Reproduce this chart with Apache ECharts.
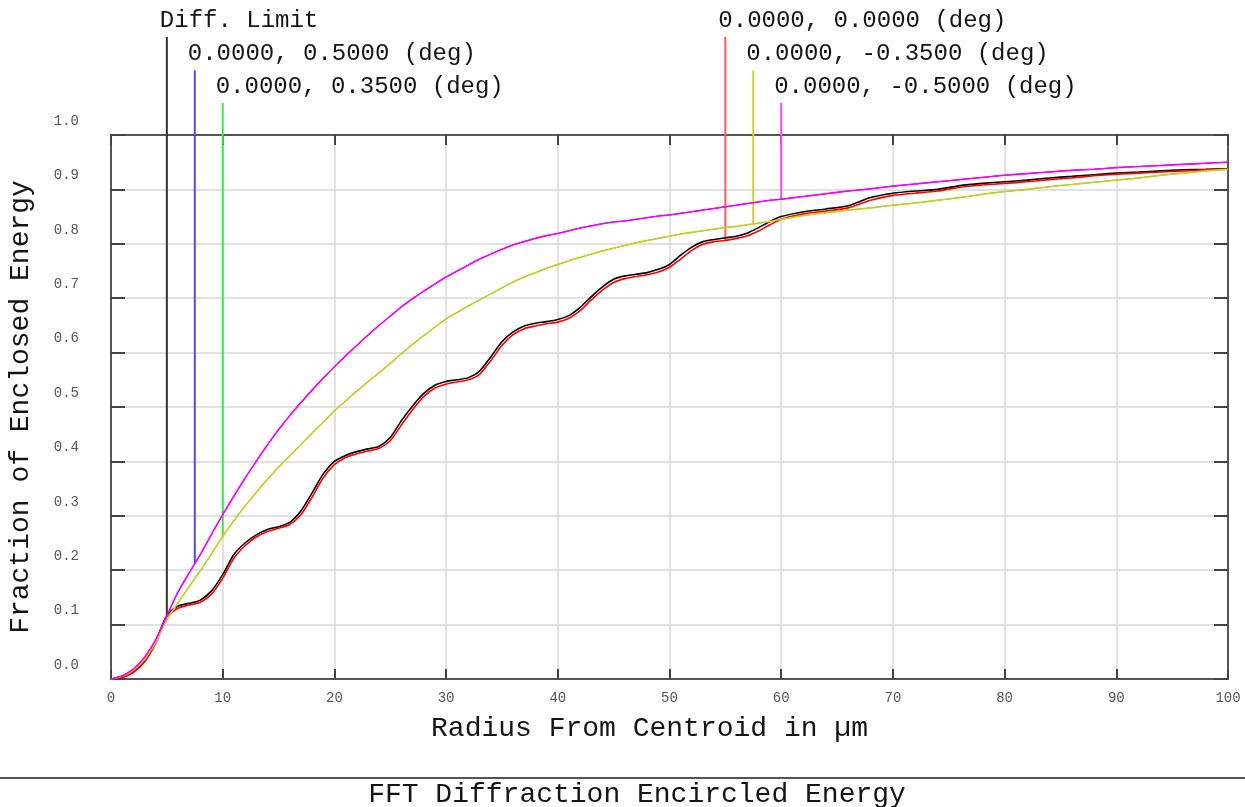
<!DOCTYPE html>
<html>
<head>
<meta charset="utf-8">
<title>FFT Diffraction Encircled Energy</title>
<script src="https://cdn.jsdelivr.net/npm/echarts@6/dist/echarts.min.js"></script>
<style>
  html, body { margin: 0; padding: 0; background: #ffffff; }
  #chart { width: 1245px; height: 807px; }
</style>
</head>
<body>
<div id="chart"></div>
<script>
// Radius from centroid (µm): 1 µm steps up to 60, then 2 µm steps.
const radius = [
  0, 1, 2, 3, 4, 5, 6, 7, 8, 9, 10, 11, 12, 13, 14, 15, 16, 17, 18, 19, 20,
  21, 22, 23, 24, 25, 26, 27, 28, 29, 30, 31, 32, 33, 34, 35, 36, 37, 38, 39, 40,
  41, 42, 43, 44, 45, 46, 47, 48, 49, 50, 51, 52, 53, 54, 55, 56, 57, 58, 59, 60,
  62, 64, 66, 68, 70, 72, 74, 76, 78, 80, 82, 84, 86, 88, 90, 92, 94, 96, 98, 100
];

// Diffraction-limited encircled energy.
const diffLimit = [
  0.000, 0.003, 0.013, 0.033, 0.069, 0.117, 0.134, 0.139, 0.145, 0.162, 0.192,
  0.229, 0.250, 0.265, 0.275, 0.280, 0.288, 0.309, 0.342, 0.377, 0.400,
  0.411, 0.418, 0.423, 0.428, 0.444, 0.475, 0.502, 0.525, 0.540, 0.547,
  0.550, 0.554, 0.566, 0.592, 0.620, 0.638, 0.649, 0.654, 0.657, 0.661,
  0.668, 0.683, 0.703, 0.721, 0.735, 0.741, 0.744, 0.747, 0.753, 0.762,
  0.779, 0.794, 0.804, 0.808, 0.811, 0.814, 0.820, 0.830, 0.841, 0.850,
  0.859, 0.864, 0.870, 0.885, 0.893, 0.897, 0.900, 0.907, 0.911, 0.914,
  0.917, 0.921, 0.924, 0.927, 0.930, 0.932, 0.934, 0.936, 0.937, 0.938
];

// On-axis field (0.0000, 0.0000 deg).
const fieldAxis = [
  0.000, 0.003, 0.012, 0.031, 0.066, 0.113, 0.130, 0.136, 0.141, 0.156, 0.185,
  0.222, 0.245, 0.261, 0.271, 0.277, 0.284, 0.302, 0.334, 0.370, 0.394,
  0.407, 0.414, 0.419, 0.424, 0.438, 0.467, 0.495, 0.519, 0.535, 0.542,
  0.546, 0.550, 0.560, 0.585, 0.613, 0.633, 0.644, 0.649, 0.653, 0.656,
  0.663, 0.677, 0.697, 0.715, 0.729, 0.736, 0.740, 0.743, 0.748, 0.757,
  0.772, 0.788, 0.799, 0.804, 0.806, 0.810, 0.815, 0.824, 0.835, 0.845,
  0.855, 0.860, 0.866, 0.880, 0.889, 0.893, 0.897, 0.904, 0.908, 0.911,
  0.914, 0.918, 0.921, 0.925, 0.928, 0.930, 0.932, 0.934, 0.936, 0.937
];

// Fields at ±0.3500 deg (symmetric, identical curves).
const fieldZone = [
  0.000, 0.005, 0.016, 0.036, 0.068, 0.109, 0.140, 0.170, 0.199, 0.230, 0.262,
  0.291, 0.318, 0.343, 0.367, 0.389, 0.410, 0.431, 0.452, 0.472, 0.493,
  0.511, 0.529, 0.546, 0.563, 0.580, 0.598, 0.615, 0.631, 0.647, 0.662,
  0.674, 0.686, 0.697, 0.708, 0.719, 0.730, 0.739, 0.747, 0.755, 0.762,
  0.769, 0.775, 0.781, 0.787, 0.792, 0.797, 0.802, 0.806, 0.810, 0.814,
  0.818, 0.821, 0.824, 0.827, 0.830, 0.832, 0.835, 0.838, 0.841, 0.845,
  0.852, 0.857, 0.862, 0.866, 0.871, 0.875, 0.880, 0.885, 0.891, 0.896,
  0.900, 0.905, 0.909, 0.913, 0.917, 0.921, 0.926, 0.930, 0.934, 0.937
];

// Fields at ±0.5000 deg (symmetric, identical curves).
const fieldEdge = [
  0.000, 0.006, 0.018, 0.040, 0.072, 0.116, 0.160, 0.195, 0.229, 0.266, 0.302,
  0.336, 0.369, 0.400, 0.430, 0.458, 0.484, 0.508, 0.531, 0.553, 0.574,
  0.594, 0.613, 0.632, 0.650, 0.667, 0.684, 0.699, 0.713, 0.726, 0.739,
  0.750, 0.761, 0.772, 0.781, 0.790, 0.798, 0.804, 0.810, 0.815, 0.819,
  0.824, 0.829, 0.833, 0.837, 0.840, 0.842, 0.845, 0.848, 0.851, 0.853,
  0.856, 0.859, 0.862, 0.865, 0.868, 0.871, 0.874, 0.877, 0.880, 0.882,
  0.887, 0.892, 0.897, 0.901, 0.906, 0.910, 0.914, 0.918, 0.922, 0.926,
  0.929, 0.932, 0.935, 0.937, 0.940, 0.942, 0.944, 0.946, 0.948, 0.950
];

// Axis ticks.
const xTicks = { min: 0, max: 100, step: 10 };
const yTicks = { min: 0, max: 1.0, step: 0.1 };

// Legend entries, in drawing order, with the radius each leader line marks.
const traceNames = [
  'Diff. Limit',
  '0.0000, 0.5000 (deg)',
  '0.0000, 0.3500 (deg)',
  '0.0000, 0.0000 (deg)',
  '0.0000, -0.3500 (deg)',
  '0.0000, -0.5000 (deg)'
];
const traceValues = [diffLimit, fieldEdge, fieldZone, fieldAxis, fieldZone, fieldEdge];
const markerRadius = [5, 7.5, 10, 55, 57.5, 60];

// ---- styling ----
const FONT = '"Liberation Mono", "DejaVu Sans Mono", monospace';
const TEXT_COLOR = '#141414';
const curveColors = ['#000000', '#0000ff', '#00e000', '#ff0000', '#cccc22', '#ff00ff'];
const curveWidths = [1.6, 1, 1, 1.6, 1.6, 1.6];
const leaderColors = ['#333333', '#4a4aff', '#33ee33', '#ff5a5a', '#cccc44', '#ff44ff'];
// Leader line tops, in value units above the plot (three stacked rows).
const leaderTop = [1.180, 1.119, 1.059, 1.180, 1.119, 1.059];

function valueAt(values, r) {
  for (let i = 1; i < radius.length; i++) {
    if (r <= radius[i]) {
      const t = (r - radius[i - 1]) / (radius[i] - radius[i - 1]);
      return values[i - 1] + t * (values[i] - values[i - 1]);
    }
  }
  return values[values.length - 1];
}

const curveSeries = traceNames.map((name, k) => ({
  name: name,
  type: 'line',
  data: radius.map((r, i) => [r, traceValues[k][i]]),
  showSymbol: false,
  smooth: 0.25,
  lineStyle: { color: curveColors[k], width: curveWidths[k] },
  z: 3 + k,
  silent: true
}));

// Vertical leader from each curve up to its legend text.
const leaderSeries = traceNames.map((name, k) => ({
  name: name + ' leader',
  type: 'line',
  clip: false,
  data: [
    [markerRadius[k], valueAt(traceValues[k], markerRadius[k])],
    [markerRadius[k], leaderTop[k]]
  ],
  showSymbol: false,
  lineStyle: { color: leaderColors[k], width: 2 },
  z: 2,
  silent: true
}));

// Legend text sitting just above each leader top.
const labelSeries = {
  type: 'scatter',
  clip: false,
  symbol: 'rect',
  symbolSize: [1, 1],
  itemStyle: { color: '#ffffff', opacity: 1 },
  silent: true,
  data: traceNames.map((name, k) => ({
    value: [markerRadius[k], leaderTop[k]],
    label: {
      show: true,
      formatter: name,
      position: 'top',
      align: 'left',
      distance: 4,
      offset: [-7, 0],
      fontFamily: FONT,
      fontSize: 24,
      color: TEXT_COLOR,
      opacity: 1
    }
  })),
  z: 1
};

const chart = echarts.init(document.getElementById('chart'), null, { renderer: 'canvas' });

chart.setOption({
  animation: false,
  backgroundColor: '#ffffff',
  grid: { left: 111, right: 17, top: 135, bottom: 128, containLabel: false, outerBoundsMode: 'none' },
  xAxis: [
    {
      type: 'value',
      min: xTicks.min, max: xTicks.max, interval: xTicks.step,
      position: 'bottom',
      name: 'Radius From Centroid in \u00b5m',
      nameLocation: 'middle',
      nameGap: 36,
      nameTextStyle: { fontFamily: FONT, fontSize: 28, color: TEXT_COLOR, padding: [0, 40, 0, 0] },
      axisLine: { show: true, onZero: false, lineStyle: { color: '#555555', width: 2 } },
      axisTick: { show: true, inside: true, length: 10, lineStyle: { color: '#444444', width: 2 } },
      axisLabel: { fontFamily: FONT, fontSize: 14, color: '#555555', margin: 12 },
      splitLine: { show: true, lineStyle: { color: '#d9d9d9', width: 1.5 } }
    },
    {
      type: 'value',
      min: xTicks.min, max: xTicks.max, interval: xTicks.step,
      position: 'top',
      axisLine: { show: true, onZero: false, lineStyle: { color: '#555555', width: 2 } },
      axisTick: { show: true, inside: true, length: 10, lineStyle: { color: '#444444', width: 2 } },
      axisLabel: { show: false },
      splitLine: { show: false }
    }
  ],
  yAxis: [
    {
      type: 'value',
      min: yTicks.min, max: yTicks.max, interval: yTicks.step,
      position: 'left',
      name: 'Fraction of Enclosed Energy',
      nameLocation: 'middle',
      nameGap: 76,
      nameTextStyle: { fontFamily: FONT, fontSize: 28, color: TEXT_COLOR },
      axisLine: { show: true, onZero: false, lineStyle: { color: '#555555', width: 2 } },
      axisTick: { show: true, inside: true, length: 14, lineStyle: { color: '#444444', width: 2 } },
      axisLabel: {
        fontFamily: FONT, fontSize: 14, color: '#555555', margin: 32,
        verticalAlign: 'bottom', lineHeight: 28,
        formatter: v => v.toFixed(1)
      },
      splitLine: { show: true, lineStyle: { color: '#d9d9d9', width: 1.5 } }
    },
    {
      type: 'value',
      min: yTicks.min, max: yTicks.max, interval: yTicks.step,
      position: 'right',
      axisLine: { show: true, onZero: false, lineStyle: { color: '#555555', width: 2 } },
      axisTick: { show: true, inside: true, length: 14, lineStyle: { color: '#444444', width: 2 } },
      axisLabel: { show: false },
      splitLine: { show: false }
    }
  ],
  series: [...leaderSeries, ...curveSeries, labelSeries],
  graphic: [
    {
      type: 'line',
      shape: { x1: 0, y1: 778, x2: 1245, y2: 778 },
      style: { stroke: '#555555', lineWidth: 2 },
      silent: true
    },
    {
      type: 'text',
      x: 637, y: 795,
      style: {
        text: 'FFT Diffraction Encircled Energy',
        fontFamily: FONT, fontSize: 28, fill: TEXT_COLOR,
        textAlign: 'center', textVerticalAlign: 'middle'
      },
      silent: true
    }
  ]
});
</script>
</body>
</html>
